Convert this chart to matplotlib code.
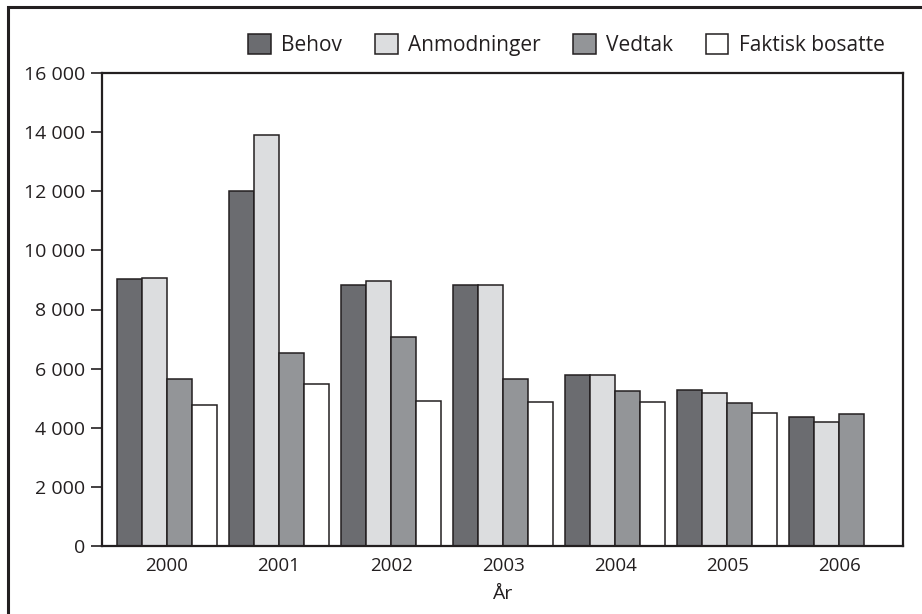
import numpy as np
import matplotlib
matplotlib.use("Agg")
import matplotlib.pyplot as plt
from matplotlib.patches import Rectangle
from matplotlib.ticker import FuncFormatter

# Data
years = ['2000', '2001', '2002', '2003', '2004', '2005', '2006']
behov = [9030, 12000, 8830, 8820, 5800, 5280, 4380]
anmodninger = [9050, 13900, 8970, 8820, 5800, 5180, 4200]
vedtak = [5650, 6520, 7070, 5650, 5250, 4850, 4480]
faktisk_bosatte = [4780, 5490, 4900, 4870, 4870, 4510, 0]

series = [
    ('Behov', behov, '#6b6c70'),
    ('Anmodninger', anmodninger, '#dcdddf'),
    ('Vedtak', vedtak, '#939598'),
    ('Faktisk bosatte', faktisk_bosatte, '#ffffff'),
]

plt.rcParams['font.family'] = ['Open Sans', 'DejaVu Sans']
ink = '#231f20'

fig = plt.figure(figsize=(9.22, 6.14), dpi=100)
ax = fig.add_axes([102 / 922, 1 - 546 / 614, (903 - 102) / 922, (546 - 73) / 614])

x = np.arange(len(years))
width = 0.223
for i, (name, vals, color) in enumerate(series):
    offs = (i - 1.5) * width
    ax.bar(x + offs, vals, width, color=color, edgecolor=ink,
           linewidth=1.1, label=name, zorder=2)

ax.set_xlim(-0.58, 6.57)
ax.set_ylim(0, 16000)
ax.set_yticks(range(0, 16001, 2000))
ax.yaxis.set_major_formatter(FuncFormatter(lambda v, p: f'{int(v):,}'.replace(',', ' ')))
ax.set_xticks(x)
ax.set_xticklabels(years)
ax.tick_params(axis='x', length=0, pad=8, labelsize=13.5, colors=ink)
ax.tick_params(axis='y', length=8, width=1.2, pad=4, labelsize=14, colors=ink)
ax.set_xlabel('År', fontsize=14, color=ink, labelpad=7)

for sp in ax.spines.values():
    sp.set_linewidth(1.6)
    sp.set_color(ink)

leg = ax.legend(loc='lower right', bbox_to_anchor=(0.998, 1.0), ncol=4,
                frameon=False, fontsize=15, handlelength=1.1, handleheight=1.1,
                handletextpad=0.5, columnspacing=1.55, borderaxespad=0.4)
for t in leg.get_texts():
    t.set_color(ink)

# outer frame (cut off at right and bottom like the original)
fig.add_artist(Rectangle((7.5 / 922, -0.2), 1.2, 1.2 - 7.5 / 614,
                         transform=fig.transFigure, fill=False,
                         edgecolor=ink, linewidth=2.2))

fig.savefig('out.png', dpi=100)
